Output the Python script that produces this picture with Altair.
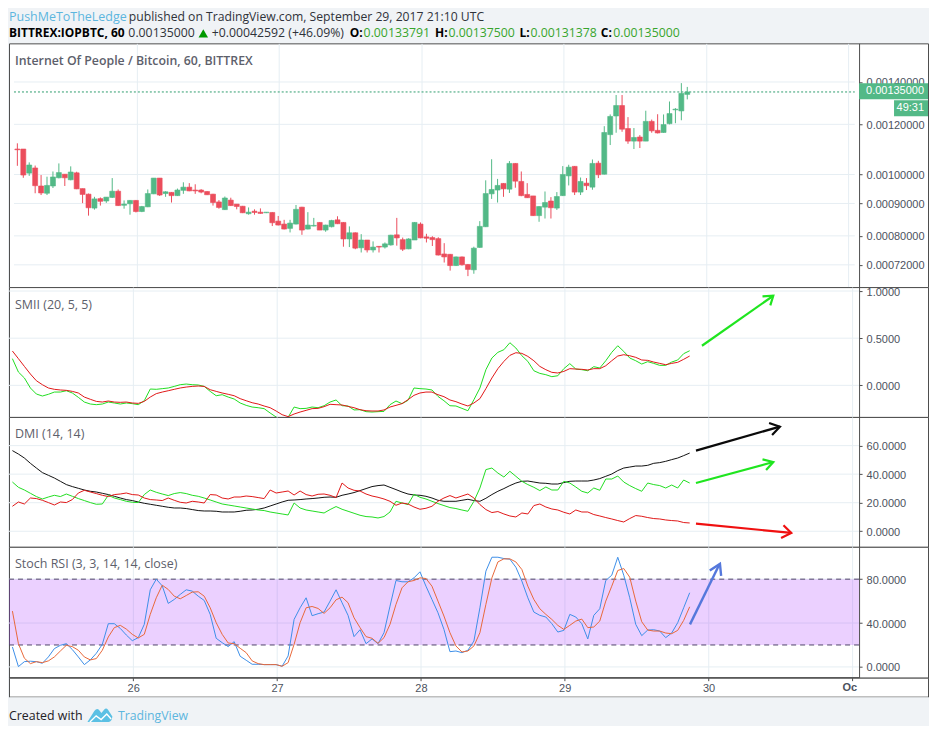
import altair as alt
import pandas as pd

# ---- candles, in millionths of a bitcoin, one per hour from Sep 25 04:00 UTC
price_open = [1097,1097,1005,1024,959,934,959,988,1001,981,1006,950,931,885,916,908,920,941,894,899,
 910,874,889,932,987,933,937,926,944,955,945,945,940,931,905,880,911,898,891,867,
 875,872,870,871,844,835,822,835,888,820,829,840,817,827,848,840,791,809,766,788,
 760,770,768,774,803,789,763,788,835,797,795,792,749,748,718,741,721,707,767,827,
 932,945,968,948,1041,975,930,925,861,888,908,885,926,995,1030,938,969,955,1042,1001,
 1156,1237,1285,1182,1129,1146,1129,1213,1174,1165,1203,1265,1260,1338]
price_high = [1120,1097,1045,1033,998,992,1011,1041,1001,1030,1010,950,933,922,920,921,987,947,910,911,
 911,892,947,987,987,941,938,950,972,969,965,948,941,932,911,923,919,898,892,887,
 881,884,872,872,860,848,848,895,889,872,854,841,833,848,859,841,828,810,805,788,
 784,771,781,803,854,795,793,841,840,806,799,796,779,749,742,742,722,769,844,979,
 1057,984,969,1050,1042,1011,969,925,891,940,921,938,1031,1036,1031,989,987,1056,1051,1192,
 1244,1335,1335,1232,1184,1154,1261,1221,1245,1244,1304,1273,1394,1375]
price_low = [1032,988,995,934,928,928,952,986,959,979,948,901,861,880,893,902,918,892,883,864,
 871,872,888,931,925,922,903,925,932,941,932,934,928,893,883,879,892,881,869,864,
 864,867,869,829,831,819,810,834,803,819,828,817,812,825,835,769,768,762,753,753,
 753,753,764,772,772,757,762,788,793,781,771,745,726,705,717,718,691,697,766,826,
 915,903,922,935,953,924,918,860,842,852,852,879,925,961,928,928,945,946,987,1000,
 1113,1164,1168,1118,1097,1101,1129,1164,1161,1164,1200,1205,1218,1314]
price_close = [1094,998,1035,960,935,961,991,1007,988,1009,949,930,886,915,907,921,941,893,898,910,
 874,890,933,987,928,939,926,945,955,942,942,938,929,903,887,918,893,890,870,872,
 871,868,872,839,832,820,838,881,817,832,831,817,832,846,836,791,809,765,788,760,
 768,768,777,802,794,762,791,840,794,793,789,746,741,718,741,720,708,765,828,933,
 947,961,949,1041,976,926,919,861,890,903,886,923,1000,1027,938,975,960,1041,999,1165,
 1235,1285,1179,1129,1144,1129,1213,1172,1163,1199,1248,1268,1343,1350]

smii_green = [.283,.141,.078,-.028,-.092,-.113,-.095,-.071,-.071,-.057,-.081,-.127,-.177,-.198,-.205,-.198,-.177,-.187,-.198,-.187,
 -.194,-.205,-.163,-.039,-.042,-.035,-.028,-.011,.007,.014,.007,.004,-.011,-.064,-.110,-.099,-.124,-.145,-.187,-.212,
 -.230,-.237,-.247,-.293,-.336,-.364,-.339,-.230,-.247,-.244,-.230,-.237,-.216,-.177,-.155,-.216,-.219,-.261,-.258,-.279,
 -.283,-.279,-.276,-.205,-.166,-.194,-.159,-.028,-.035,-.039,-.049,-.117,-.163,-.216,-.219,-.244,-.269,-.152,-.028,.166,
 .290,.350,.378,.452,.396,.314,.254,.155,.127,.113,.092,.102,.177,.230,.173,.166,.155,.198,.184,.261,
 .350,.420,.360,.290,.261,.226,.251,.233,.212,.212,.247,.269,.336,.367]
smii_red = [.364,.283,.201,.120,.049,.007,-.028,-.042,-.049,-.053,-.064,-.081,-.124,-.148,-.170,-.177,-.166,-.177,-.180,-.177,
 -.187,-.191,-.170,-.124,-.088,-.071,-.057,-.042,-.028,-.018,-.011,-.007,-.011,-.046,-.064,-.081,-.095,-.110,-.141,-.163,
 -.184,-.198,-.219,-.237,-.272,-.311,-.332,-.304,-.283,-.265,-.247,-.244,-.226,-.201,-.205,-.208,-.223,-.237,-.258,-.269,
 -.272,-.272,-.261,-.230,-.212,-.194,-.152,-.106,-.081,-.071,-.071,-.099,-.120,-.155,-.173,-.198,-.219,-.187,-.141,-.035,
 .078,.177,.254,.318,.346,.339,.307,.261,.201,.166,.138,.131,.148,.177,.173,.170,.163,.177,.177,.208,
 .261,.311,.325,.314,.297,.269,.265,.247,.233,.219,.233,.244,.276,.311]

dmi_black = [56.5,54.1,51.3,47.6,44.3,41.1,39.2,37.3,35.0,32.7,31.3,30.1,28.9,28.0,27.5,26.6,25.7,24.5,23.3,22.2,
 21.5,20.5,19.6,18.9,18.2,17.5,16.8,16.3,16.3,15.9,15.2,14.5,14.2,14.2,14.0,13.5,13.5,13.5,14.0,14.7,
 14.9,15.4,16.3,17.7,19.1,20.5,21.7,21.9,22.2,22.6,22.9,23.3,23.8,24.0,23.8,25.2,26.1,27.1,28.5,29.9,
 31.3,32.0,32.4,30.8,29.2,27.5,26.1,25.4,25.2,24.5,23.3,21.7,21.0,21.0,21.0,21.7,22.4,21.5,21.0,23.1,
 25.7,28.0,29.9,32.0,33.8,35.0,35.2,34.5,33.8,33.6,33.1,33.1,34.1,35.0,35.2,35.2,35.2,35.9,36.9,38.5,
 40.1,42.5,44.3,45.0,45.7,45.7,46.2,47.6,48.1,49.0,50.2,51.3,53.0,54.8]
dmi_green = [34.5,30.8,28.9,26.6,24.3,22.6,24.0,25.2,24.3,26.1,24.5,22.9,21.5,20.1,18.9,19.1,25.2,23.3,22.2,21.0,
 20.3,20.1,25.7,28.9,27.3,26.1,25.0,26.4,27.1,26.4,25.2,24.5,23.3,21.9,20.5,19.1,18.4,17.7,17.0,16.3,
 15.6,14.9,14.5,13.5,12.8,12.1,11.4,19.8,16.3,14.9,14.2,13.5,12.8,15.2,17.3,15.4,14.0,12.6,11.2,10.3,
 10.0,9.3,10.3,13.5,21.0,19.8,18.7,25.9,23.8,22.6,21.0,19.4,18.0,16.6,15.9,14.9,14.0,21.0,30.3,43.2,
 44.3,40.8,38.0,42.0,38.5,35.0,32.7,30.8,28.5,31.0,28.9,28.9,35.0,33.8,31.0,28.0,26.8,30.3,28.7,36.6,
 36.6,38.7,34.5,32.0,29.9,28.0,33.8,32.7,32.0,30.3,32.4,30.3,35.9,33.8]
dmi_red = [17.5,20.5,19.1,23.3,22.9,21.7,20.1,18.4,20.5,20.1,22.2,26.8,28.7,27.5,26.4,25.2,24.3,25.7,26.1,26.8,
 25.7,25.4,23.3,22.2,21.9,21.5,23.3,21.7,20.3,19.8,21.0,20.5,19.8,25.7,25.4,23.3,22.6,24.0,24.0,24.7,
 24.3,23.6,22.9,28.9,26.8,27.5,28.2,25.4,28.2,25.7,24.7,25.9,26.1,25.2,23.6,33.8,30.3,28.7,28.2,26.1,
 24.7,23.8,22.6,21.0,18.2,19.8,19.1,17.0,15.4,16.1,17.5,21.0,23.3,25.0,23.3,24.7,26.1,23.3,18.7,15.2,
 13.1,13.8,12.1,10.7,10.0,12.8,12.1,18.0,19.1,17.0,15.6,14.9,13.3,12.1,14.9,13.5,13.5,11.7,10.7,9.6,
 8.6,7.5,6.5,8.9,11.0,10.5,9.6,8.9,8.6,7.9,7.5,7.2,6.1,5.8]

stoch_blue = [18.2,0.3,4.8,5.2,4.8,3.3,9.1,16.7,19.7,21.2,15.8,9.1,2.1,6.4,12.4,20.6,39.4,39.4,35.1,29.1,
 23.9,26.7,38.8,70.3,80.0,73.9,57.9,61.5,66.1,70.3,69.1,64.5,60.6,47.9,26.1,22.1,18.5,23.0,9.7,6.1,
 2.4,2.4,2.1,2.1,2.1,0.6,10.0,43.3,53.9,63.0,46.7,48.5,50.0,60.0,70.3,58.5,47.0,27.6,33.9,21.2,
 25.5,21.2,31.2,55.4,78.8,77.6,77.6,81.2,86.7,73.6,61.5,49.4,34.2,13.9,14.5,13.0,15.2,23.6,53.9,87.3,
 100.0,100.0,98.8,98.2,90.9,78.2,63.0,50.0,47.0,45.5,39.4,31.8,33.3,47.9,45.5,39.4,25.5,47.0,53.0,78.8,
 83.6,100.0,83.6,63.0,38.8,28.5,33.6,33.9,32.7,26.7,30.9,40.3,53.9,67.6]
stoch_orange = [50.9,21.2,7.9,3.0,4.8,3.9,5.5,9.1,14.5,19.7,18.5,15.2,9.1,6.4,7.6,15.2,27.3,35.8,37.9,34.5,
 29.7,26.4,29.7,47.9,63.0,74.5,70.6,64.5,62.1,65.1,68.2,68.5,64.5,53.9,40.3,29.7,21.8,21.2,17.0,13.0,
 5.5,3.0,2.1,2.1,2.1,0.6,3.9,20.6,40.3,53.9,55.1,53.3,48.8,53.9,61.2,63.6,58.5,44.8,35.8,27.6,
 26.1,21.5,26.7,38.8,57.0,72.1,77.6,78.8,81.2,80.6,73.6,60.0,46.4,31.2,19.1,13.6,14.5,19.1,31.2,57.0,
 81.2,95.7,98.5,98.5,95.7,88.8,73.6,61.5,53.0,47.9,43.3,37.9,34.2,37.9,41.8,43.6,35.8,36.4,41.8,60.0,
 73.6,87.9,89.7,81.8,60.0,41.2,33.6,32.7,32.7,30.9,30.3,33.3,42.4,54.8]

# hand-drawn arrows: (arrow part, hours after Sep 26 00:00, indicator value)
arrow_part = ["s","s","h","h","h"]
smii_arrow_hour = [94.9,106.8,105.0,106.8,106.3]
smii_arrow_val = [.42,.95,.943,.95,.848]
dmi_black_hour = [93.9,107.9,106.1,107.9,106.6]
dmi_black_val = [56.5,73.3,75.9,73.3,67.5]
dmi_green_hour = [93.9,106.8,105.0,106.8,105.6]
dmi_green_val = [33.8,48.5,50.4,48.5,42.9]
dmi_red_hour = [93.9,109.8,108.5,109.8,108.1]
dmi_red_val = [5.4,-1.2,4.2,-1.2,-4.7]
stoch_arrow_hour = [92.9,97.8,96.2,97.9,98.1]
stoch_arrow_val = [38.8,93.3,87.9,93.9,83.0]

day_hours = [0,24,48,72,96,120]
price_ticks = [0.00072,0.0008,0.0009,0.001,0.0012,0.0014]
smii_ticks = [0,0.5,1]
dmi_ticks = [0,20,40,60]
stoch_ticks = [0,40,80]

BG = "#f0f3f6"
FRAME = "#4d4d4d"
GRID = "#e6eef3"
AXTXT = "#4c525e"
UP = "#53b987"
DOWN = "#eb4d5c"
HDR = "Open Sans"
AX = "Liberation Sans"
W = 920
AXIS_X = 851
X0 = -20.72
X1 = 121.1
XR = X0 + W / 6

hours = [i - 20.15 for i in range(len(price_open))]
xs = alt.Scale(domain=[X0, XR], nice=False, zero=False)
xgrid = alt.Axis(values=day_hours, grid=True, gridColor=GRID, labels=False, ticks=False, domain=False, title=None)


def yaxis(values, fmt):
    return alt.Axis(orient="right", offset=AXIS_X - W, values=values, format=fmt, grid=False, title=None,
                    domainColor=FRAME, tickColor=FRAME, tickSize=3, labelColor=AXTXT, labelFont=AX,
                    labelFontSize=11, labelPadding=4, labelOffset=1)


def X(field):
    return alt.X(field, scale=xs, axis=xgrid)


def note(text, x, y, color="#5d606b", size=12.5, weight="normal", font=HDR, align="left", clip=False):
    return alt.Chart(alt.Data(values=[{"a": 1}])).mark_text(
        text=text, align=align, baseline="middle", color=color, fontSize=size, fontWeight=weight, font=font, clip=clip
    ).encode(x=alt.value(x), y=alt.value(y))


def grid_rules(ticks, Y):
    d = pd.DataFrame({"v": ticks, "a": X0, "b": X1})
    return alt.Chart(d).mark_rule(color=GRID, strokeWidth=1).encode(x=X("a:Q"), x2="b:Q", y=Y("v:Q"))


def xline(col, Y, color, width=1.0):
    return alt.Chart(pd.DataFrame({"h": hours, "v": col})).mark_line(
        color=color, strokeWidth=width, clip=True
    ).encode(x=X("h:Q"), y=Y("v:Q"))


def arrow(h, v, Y, color, width=2.2):
    d = pd.DataFrame({"p": arrow_part, "h": h, "v": v, "o": range(len(h))})
    return alt.Chart(d).mark_line(color=color, strokeWidth=width).encode(
        x=X("h:Q"), y=Y("v:Q"), detail="p:N", order="o:Q")


def make_y(domain, ticks, fmt, **kw):
    scale = alt.Scale(domain=domain, nice=False, zero=False, **kw)
    axis = yaxis(ticks, fmt)
    return lambda field: alt.Y(field, scale=scale, axis=axis)


panel_view = alt.ViewConfig(fill="white", stroke=FRAME, strokeWidth=1)
bare_view = alt.ViewConfig(fill=BG, stroke="transparent")

# ---- header
HL = "#37a52d"
L1, L2 = 7.5, 24
segments = [
    ("PushMeToTheLedge", 0, L1, "#5cb6de", 12.5, "normal"),
    ("published on TradingView.com, September 29, 2017 21:10 UTC", 120, L1, "#2f3239", 12.2, "normal"),
    ("BITTREX:IOPBTC, 60", 0, L2, "#000000", 12, "bold"),
    ("0.00135000", 119.5, L2, "#2f3239", 12.3, "normal"),
    ("+0.00042592 (+46.09%)", 203, L2, "#2f3239", 12.3, "normal"),
    ("O:", 341, L2, "#000000", 12, "bold"),
    ("0.00133791", 355, L2, HL, 12.3, "normal"),
    ("H:", 426.5, L2, "#000000", 12, "bold"),
    ("0.00137500", 440, L2, HL, 12.3, "normal"),
    ("L:", 511, L2, "#000000", 12, "bold"),
    ("0.00131378", 522, L2, HL, 12.3, "normal"),
    ("C:", 592.5, L2, "#000000", 12, "bold"),
    ("0.00135000", 605, L2, HL, 12.3, "normal"),
]
hdr_layers = [note(t, x, y, color=c, size=s, weight=w, clip=True) for t, x, y, c, s, w in segments]
hdr_layers.append(
    alt.Chart(alt.Data(values=[{"a": 1}])).mark_point(shape="triangle-up", filled=True, color="#009900", size=90, opacity=1)
    .encode(x=alt.value(194.5), y=alt.value(L2)))
header = alt.layer(*hdr_layers).properties(width=W, height=34, view=bare_view)

# ---- price panel
cd = pd.DataFrame({"h": hours, "o": price_open, "hi": price_high, "lo": price_low, "c": price_close})
for k in ["o", "hi", "lo", "c"]:
    cd[k] = cd[k] * 1e-6
cd["dir"] = ["up" if c >= o else "down" for o, c in zip(price_open, price_close)]
Yp = make_y([0.000664, 0.001611], price_ticks, ".8f", type="log")
col = alt.Color("dir:N", scale=alt.Scale(domain=["up", "down"], range=[UP, DOWN]), legend=None)
stk = alt.Stroke("dir:N", scale=alt.Scale(domain=["up", "down"], range=[UP, DOWN]), legend=None)
wicks = alt.Chart(cd).mark_rule(strokeWidth=1).encode(x=X("h:Q"), y=Yp("hi:Q"), y2="lo:Q", color=col)
bodies = alt.Chart(cd).mark_bar(orient="vertical", size=5, strokeWidth=0.6).encode(
    x=X("h:Q"), y=Yp("o:Q"), y2="c:Q", color=col, stroke=stk)
last = alt.Chart(pd.DataFrame({"v": [0.00135], "a": [X0], "b": [X1]})).mark_rule(
    color="#2f9e6e", strokeWidth=1, strokeDash=[2, 2]
).encode(x=X("a:Q"), x2="b:Q", y=Yp("v:Q"))
box1 = alt.Chart(alt.Data(values=[{"a": 1}])).mark_rect(color=UP).encode(
    x=alt.value(AXIS_X), x2=alt.value(W), y=alt.value(40), y2=alt.value(56))
box2 = alt.Chart(alt.Data(values=[{"a": 1}])).mark_rect(color=UP).encode(
    x=alt.value(886), x2=alt.value(W), y=alt.value(57), y2=alt.value(73))
main = alt.layer(
    grid_rules(price_ticks, Yp), last, wicks, bodies, box1, box2,
    note("0.00135000", 858, 48, color="white", size=11, font=AX),
    note("49:31", 916, 65, color="white", size=11, font=AX, align="right"),
    note("Internet Of People / Bitcoin, 60, BITTREX", 6, 17.5, weight=600, size=12.35),
).properties(width=W, height=244, view=panel_view)

# ---- SMII
Ys = make_y([-0.335, 1.042], smii_ticks, ".4f")
smii = alt.layer(
    grid_rules(smii_ticks, Ys),
    xline(smii_green, Ys, "#22dd22"), xline(smii_red, Ys, "#e01818"),
    arrow(smii_arrow_hour, smii_arrow_val, Ys, "#1fe51f"),
    note("SMII (20, 5, 5)", 6, 17.5),
).properties(width=W, height=130, view=panel_view)

# ---- DMI
Yd = make_y([-10.9, 80.1], dmi_ticks, ".4f")
dmi = alt.layer(
    grid_rules(dmi_ticks, Yd),
    xline(dmi_black, Yd, "#111111"), xline(dmi_green, Yd, "#22dd22"), xline(dmi_red, Yd, "#e01818"),
    arrow(dmi_black_hour, dmi_black_val, Yd, "#0a0a0a"),
    arrow(dmi_green_hour, dmi_green_val, Yd, "#1fe51f"),
    arrow(dmi_red_hour, dmi_red_val, Yd, "#f01010"),
    note("DMI (14, 14)", 6, 17.5),
).properties(width=W, height=130, view=panel_view)

# ---- Stoch RSI
Yr = make_y([-9.8, 109.5], stoch_ticks, ".4f")
band = alt.Chart(pd.DataFrame({"a": [X0], "b": [X1], "lo": [20], "hi": [80]})).mark_rect(color="#9915ff", opacity=0.2).encode(
    x=X("a:Q"), x2="b:Q", y=Yr("lo:Q"), y2="hi:Q")
dashes = alt.Chart(pd.DataFrame({"v": [20, 80], "a": X0, "b": X1})).mark_rule(
    color="#4f4468", strokeWidth=1, strokeDash=[5, 4]
).encode(x=X("a:Q"), x2="b:Q", y=Yr("v:Q"))
stoch = alt.layer(
    grid_rules(stoch_ticks, Yr), band, dashes,
    xline(stoch_blue, Yr, "#3d8fe8"), xline(stoch_orange, Yr, "#e8683a"),
    arrow(stoch_arrow_hour, stoch_arrow_val, Yr, "#5578dc", 2.4),
    note("Stoch RSI (3, 3, 14, 14, close)", 6, 17.5),
).properties(width=W, height=131, view=panel_view)

# ---- time axis strip
label_expr = "+datum.value === 0 ? '26' : +datum.value === 24 ? '27' : +datum.value === 48 ? '28' : +datum.value === 72 ? '29' : +datum.value === 96 ? '30' : ''"
xstrip_ax = alt.Axis(orient="bottom", offset=-19, values=day_hours, labelExpr=label_expr, grid=False, domain=False,
                     tickColor=FRAME, tickSize=3, labelColor=AXTXT, labelFont=AX, labelFontSize=11, labelPadding=2,
                     title=None)
strip_line = alt.Chart(pd.DataFrame({"a": [X0], "b": [X1]})).mark_rule(color=FRAME, strokeWidth=1).encode(
    x=alt.X("a:Q", scale=xs, axis=xstrip_ax), x2="b:Q", y=alt.value(0))
strip = alt.layer(
    strip_line, note("Oc", 849, 10.5, color=AXTXT, size=11, weight="bold", font=AX, align="right")
).properties(width=W, height=19, view=panel_view)

# ---- footer
logo = alt.Chart(alt.Data(values=[{"a": 1}])).mark_point(
    shape="M-1 0.6 L-0.45 -0.3 Q-0.2 -0.6 0 -0.3 L0.12 -0.12 L0.35 -0.42 Q0.5 -0.55 0.65 -0.4 L1 0.15 Q0.95 0.55 0.7 0.6 Z",
    filled=True, color="#5bc0e4", size=625, opacity=1
).encode(x=alt.value(91), y=alt.value(18))
logo_line = alt.Chart(alt.Data(values=[{"a": 1}])).mark_point(
    shape="M-0.8 0.6 L-0.3 0.1 L0.1 0.4 L0.55 -0.05 L0.9 0.35",
    filled=False, color="white", strokeWidth=1.4, size=625, opacity=1
).encode(x=alt.value(91), y=alt.value(18))
footer = alt.layer(
    note("Created with", 0, 19.5, color="#1f2126", size=12.4, clip=True),
    logo, logo_line,
    note("TradingView", 109, 19.5, color="#5cb6de", size=12.3, clip=True),
).properties(width=W, height=28, view=bare_view)

chart = alt.vconcat(header, main, smii, dmi, stoch, strip, footer, spacing=0, bounds="flush").properties(
    background=BG, padding=0)

chart.save("out.html", embed_options={"renderer": "svg", "actions": False})
